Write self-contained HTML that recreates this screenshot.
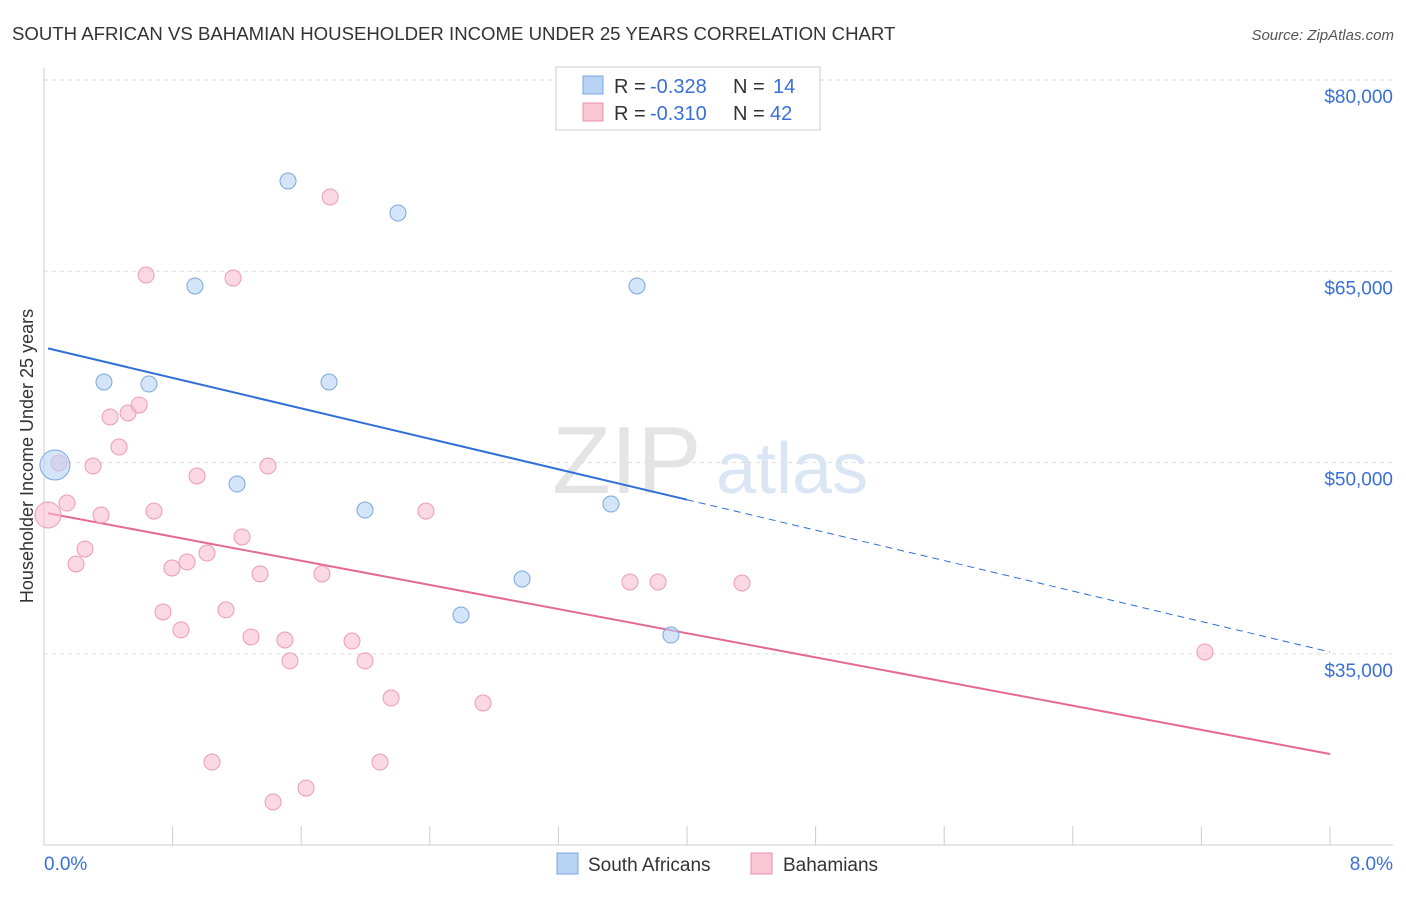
<!DOCTYPE html>
<html><head><meta charset="utf-8"><style>
body{margin:0;background:#fff;font-family:"Liberation Sans",sans-serif;}
svg text{font-family:"Liberation Sans",sans-serif;}
</style></head><body>
<svg id="chart" width="1406" height="892" xmlns="http://www.w3.org/2000/svg">
<text x="12" y="40" font-size="18.6" fill="#333">SOUTH AFRICAN VS BAHAMIAN HOUSEHOLDER INCOME UNDER 25 YEARS CORRELATION CHART</text>
<text x="1394" y="40" font-size="15" fill="#555" text-anchor="end" font-style="italic">Source: ZipAtlas.com</text>
<g>
<text x="552" y="493" font-size="96" fill="#e4e4e4" font-family="Liberation Serif">ZIP</text>
<text x="716" y="493" font-size="72" fill="#dbe6f4">atlas</text>
</g>
<g id="grid"></g>
<g id="axes"></g>
<g id="trends"></g>
<g id="points"></g>
<text transform="translate(33,456) rotate(-90)" font-size="18" fill="#333" text-anchor="middle">Householder Income Under 25 years</text>
<g>
<rect x="556" y="67" width="264" height="63" fill="#fff" stroke="#ccc"/>
<rect x="583" y="76" width="20" height="18" fill="#b9d3f5" stroke="#7aa6e0"/>
<rect x="583" y="103" width="20" height="18" fill="#f9c6d4" stroke="#ec8fab"/>
<text x="614" y="93" font-size="20" fill="#333">R =</text>
<text x="650" y="93" font-size="20" fill="#3a6fd8">-0.328</text>
<text x="733" y="93" font-size="20" fill="#333">N =</text>
<text x="773" y="93" font-size="20" fill="#3a6fd8">14</text>
<text x="614" y="120" font-size="20" fill="#333">R =</text>
<text x="650" y="120" font-size="20" fill="#3a6fd8">-0.310</text>
<text x="733" y="120" font-size="20" fill="#333">N =</text>
<text x="770" y="120" font-size="20" fill="#3a6fd8">42</text>
</g>
<g>
<rect x="557" y="853" width="21" height="21" fill="#b9d3f5" stroke="#7aa6e0"/>
<text x="588" y="871" font-size="19" fill="#333">South Africans</text>
<rect x="751" y="853" width="21" height="21" fill="#f9c6d4" stroke="#ec8fab"/>
<text x="783" y="871" font-size="19" fill="#333">Bahamians</text>
</g>
</svg>
<script>
const yTicks=[35000,50000,65000,80000];
const yTickLabels=["$35,000","$50,000","$65,000","$80,000"];
const xTickLabels=["0.0%","8.0%"];
const blueX=[1.518,2.202,0.939,3.689,0.373,0.653,1.773,0.068,1.201,1.997,3.527,2.974,2.594,3.900];
const blueY=[72080,69570,63850,63850,56320,56160,56320,49810,48320,46280,46750,40870,38050,36480];
const pinkX=[1.78,0.635,1.176,0.411,0.523,0.592,0.467,0.093,0.305,1.393,0.952,0.143,0.025,0.355,0.684,2.376,1.232,0.255,0.199,0.890,0.796,1.014,1.344,1.729,3.645,3.820,4.342,0.740,1.132,0.852,1.288,1.499,1.916,1.530,1.997,2.159,2.731,1.045,2.090,1.630,1.425,7.222];
const pinkY=[70830,64710,64470,53580,53890,54520,51220,49970,49730,49730,48950,46830,45890,45890,46200,46200,44170,43230,42050,42210,41740,42910,41270,41270,40640,40640,40560,38290,38450,36880,36330,36090,36010,34450,34450,31540,31150,26520,26520,24480,23390,35150];
const blueTrend=[59030,35150];
const pinkTrend=[46090,27150];
const NS="http://www.w3.org/2000/svg";
const X=v=>44+v*160.75;
const Y=v=>80+(80000-v)*191.3/15000;
function mk(tag,attrs,parent){const e=document.createElementNS(NS,tag);for(const k in attrs)e.setAttribute(k,attrs[k]);parent.appendChild(e);return e;}
const grid=document.getElementById('grid'),axes=document.getElementById('axes');
yTicks.forEach((t,i)=>{
 const l=mk('line',{x1:44,x2:1393,y1:Y(t),y2:Y(t),stroke:'#ddd','stroke-dasharray':'4,4'},grid);
 
 
 const tx=mk('text',{x:1393,y:Y(t)+23,'font-size':19,fill:'#3a6fd8','text-anchor':'end'},axes);
 tx.textContent=yTickLabels[i];
 
 
});
mk('line',{x1:44,x2:44,y1:68,y2:845,stroke:'#ccc'},axes);
mk('line',{x1:44,x2:1393,y1:845,y2:845,stroke:'#ccc'},axes);
for(let i=1;i<=10;i++){mk('line',{x1:X(i*0.8),x2:X(i*0.8),y1:826,y2:845,stroke:'#ccc'},axes);}
const xl0=mk('text',{x:44,y:870,'font-size':19,fill:'#3a6fd8'},axes);xl0.textContent=xTickLabels[0];


const xl1=mk('text',{x:1393,y:870,'font-size':19,fill:'#3a6fd8','text-anchor':'end'},axes);xl1.textContent=xTickLabels[1];


const tr=document.getElementById('trends');
const bAt=x=>blueTrend[0]+(blueTrend[1]-blueTrend[0])*x/8;
const pAt=x=>pinkTrend[0]+(pinkTrend[1]-pinkTrend[0])*x/8;
const b1=mk('line',{x1:X(0.025),y1:Y(bAt(0.025)),x2:X(4),y2:Y(bAt(4)),stroke:'#2f6fd6','stroke-width':2},tr);


const b2=mk('line',{x1:X(4),y1:Y(bAt(4)),x2:X(8),y2:Y(bAt(8)),stroke:'#2f6fd6','stroke-width':1,'stroke-dasharray':'7,5'},tr);


const p1=mk('line',{x1:X(0.025),y1:Y(pAt(0.025)),x2:X(8),y2:Y(pAt(8)),stroke:'#e46a93','stroke-width':2},tr);


const pts=document.getElementById('points');
pinkX.forEach((x,i)=>{
 const r=(i===12)?13:8;
 const c=mk('circle',{cx:X(x),cy:Y(pinkY[i]),r:r,fill:'rgba(248,190,208,0.6)',stroke:'#ee9ab5','stroke-width':1},pts);
 
 
});
blueX.forEach((x,i)=>{
 const r=(i===7)?15:8;
 const c=mk('circle',{cx:X(x),cy:Y(blueY[i]),r:r,fill:'rgba(185,211,245,0.6)',stroke:'#7aa6e0','stroke-width':1},pts);
 
 
});
</script>
</body></html>
